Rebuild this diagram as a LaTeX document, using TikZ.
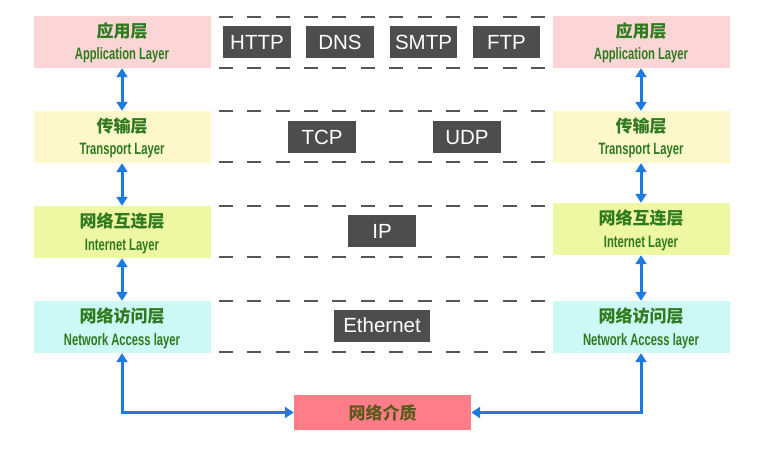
\documentclass[tikz,border=0pt]{standalone}
\usepackage{fontspec}
\usetikzlibrary{arrows.meta,calc}
\newfontfamily\cjkf{Noto Sans CJK SC}
\newfontfamily\condf[FakeStretch=0.68]{Liberation Sans}
\newfontfamily\labf{Liberation Sans}
\definecolor{txtgreen}{HTML}{2F7A1E}
\definecolor{medtxt}{HTML}{5C5A1C}
\definecolor{appfill}{HTML}{FCD6D6}
\definecolor{trafill}{HTML}{FCF8CC}
\definecolor{intfill}{HTML}{EEF7A2}
\definecolor{netfill}{HTML}{CCF8F5}
\definecolor{medfill}{HTML}{FF7D88}
\definecolor{protofill}{HTML}{4D4D4D}
\definecolor{dashcol}{HTML}{555555}
\definecolor{arrowblue}{HTML}{1E7AE0}
\tikzset{
  layerbox/.style={draw=none,minimum width=177pt,minimum height=52pt,inner sep=0pt},
  cntext/.style={anchor=base,text=txtgreen,font=\cjkf\bfseries\fontsize{17}{20}\selectfont,inner sep=0pt},
  entext/.style={anchor=base,text=txtgreen,font=\condf\bfseries\fontsize{16.5}{19}\selectfont,inner sep=0pt},
  proto/.style={fill=protofill,text=white,font=\labf\fontsize{20.5}{24}\selectfont,minimum height=32pt,inner sep=0pt,text height=14.7pt,text depth=0pt},
  dashline/.style={draw=dashcol,line width=2.6pt,dash pattern=on 14pt off 14.36pt},
  barrow/.style={draw=arrowblue,line width=3pt,{Triangle[width=11pt,length=9pt]}-{Triangle[width=11pt,length=9pt]}},
}
\begin{document}
\begin{tikzpicture}[x=1pt,y=-1pt]
\useasboundingbox (0,0) rectangle (774,468);
% left stack
\node[layerbox,fill=appfill] (la) at (122,42) {};
\node[layerbox,fill=trafill] (lt) at (122,137) {};
\node[layerbox,fill=intfill] (li) at (122,232) {};
\node[layerbox,fill=netfill] (ln) at (122,327) {};
% right stack
\node[layerbox,fill=appfill] (ra) at (641,42) {};
\node[layerbox,fill=trafill] (rt) at (641,137) {};
\node[layerbox,fill=intfill] (ri) at (641,229) {};
\node[layerbox,fill=netfill] (rn) at (641,327) {};
% texts
\foreach \b/\c/\e in {la/应用层/Application Layer, lt/传输层/Transport Layer, li/网络互连层/Internet Layer, ln/网络访问层/Network Access layer,
                      ra/应用层/Application Layer, rt/传输层/Transport Layer, ri/网络互连层/Internet Layer, rn/网络访问层/Network Access layer}{
  \node[cntext] (\b c) at ($(\b.center)+(0,-4.5)$) {\c};
  \node[entext] (\b e) at ($(\b.center)+(0,18)$) {\e};
}
% medium
\node[draw=none,fill=medfill,minimum width=177pt,minimum height=35pt,inner sep=0pt] (med) at (382.5,412.5) {};
\node[anchor=base,text=medtxt,font=\cjkf\bfseries\fontsize{17}{20}\selectfont,inner sep=0pt] (medt) at ($(med.center)+(0,6.5)$) {网络介质};
% dashed lines
\foreach \y in {17,68,111,162,206,257,301,352}{
  \draw[dashline] (219,\y) -- (545,\y);
}
% protocol boxes
\node[proto,minimum width=68pt] (http) at (257,42) {HTTP};
\node[proto,minimum width=68pt] (dns) at (340,42) {DNS};
\node[proto,minimum width=67pt] (smtp) at (423.5,42) {SMTP};
\node[proto,minimum width=67pt] (ftp) at (506.5,42) {FTP};
\node[proto,minimum width=68pt] (tcp) at (322,137) {TCP};
\node[proto,minimum width=68pt] (udp) at (467,137) {UDP};
\node[proto,minimum width=68pt] (ip) at (382,231) {IP};
\node[proto,minimum width=96pt] (eth) at (382,325.5) {Ethernet};
% arrows
\draw[barrow] (la.south) -- (lt.north);
\draw[barrow] (lt.south) -- (li.north);
\draw[barrow] (li.south) -- (ln.north);
\draw[barrow] (ra.south) -- (rt.north);
\draw[barrow] (rt.south) -- (ri.north);
\draw[barrow] (ri.south) -- (rn.north);
\draw[barrow] (ln.south) |- (med.west);
\draw[barrow] (rn.south) |- (med.east);
\end{tikzpicture}
\end{document}
